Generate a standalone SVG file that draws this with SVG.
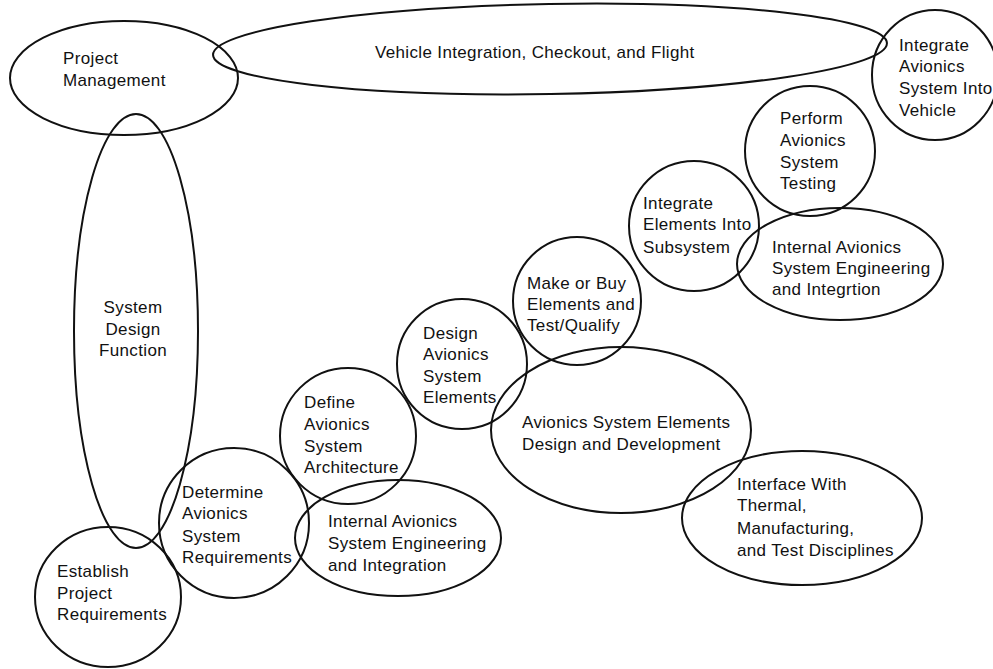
<svg xmlns="http://www.w3.org/2000/svg" width="993" height="669" viewBox="0 0 993 669">
<style>
.n{fill:none;stroke:#111;stroke-width:2}
text{font-family:"Liberation Sans",Arial,sans-serif;font-size:17px;letter-spacing:0.35px;fill:#111}
</style>
<rect width="993" height="669" fill="#fff"/>
<g id="connectors"></g>
<g id="project-management"><ellipse class="n" cx="124" cy="78" rx="114" ry="57"/><text x="63"><tspan x="63" y="64">Project</tspan><tspan x="63" y="86">Management</tspan></text></g>
<g id="vehicle-integration"><ellipse class="n" cx="550" cy="49" rx="337" ry="45" transform="rotate(-1 550 49)"/><text x="375" y="58">Vehicle Integration, Checkout, and Flight</text></g>
<g id="integrate-into-vehicle"><ellipse class="n" cx="935" cy="75" rx="63" ry="65"/><text><tspan x="899" y="51">Integrate</tspan><tspan x="899" y="72">Avionics</tspan><tspan x="899" y="94">System Into</tspan><tspan x="899" y="116">Vehicle</tspan></text></g>
<g id="perform-testing"><ellipse class="n" cx="810" cy="151" rx="65" ry="65"/><text><tspan x="780" y="124">Perform</tspan><tspan x="780" y="146">Avionics</tspan><tspan x="780" y="168">System</tspan><tspan x="780" y="189">Testing</tspan></text></g>
<g id="integrate-elements"><ellipse class="n" cx="694" cy="226" rx="65" ry="65"/><text><tspan x="643" y="209">Integrate</tspan><tspan x="643" y="230">Elements Into</tspan><tspan x="643" y="253">Subsystem</tspan></text></g>
<g id="internal-top"><ellipse class="n" cx="840" cy="264" rx="103" ry="56"/><text><tspan x="772" y="253">Internal Avionics</tspan><tspan x="772" y="274">System Engineering</tspan><tspan x="772" y="295">and Integrtion</tspan></text></g>
<g id="make-or-buy"><ellipse class="n" cx="577" cy="301" rx="64" ry="64"/><text><tspan x="527" y="289">Make or Buy</tspan><tspan x="527" y="310">Elements and</tspan><tspan x="527" y="331">Test/Qualify</tspan></text></g>
<g id="design-elements"><ellipse class="n" cx="462" cy="364" rx="65" ry="65"/><text><tspan x="423" y="339">Design</tspan><tspan x="423" y="360">Avionics</tspan><tspan x="423" y="382">System</tspan><tspan x="423" y="403">Elements</tspan></text></g>
<g id="define-architecture"><ellipse class="n" cx="348" cy="436" rx="68" ry="68"/><text><tspan x="304" y="408">Define</tspan><tspan x="304" y="430">Avionics</tspan><tspan x="304" y="452">System</tspan><tspan x="304" y="473">Architecture</tspan></text></g>
<g id="determine-requirements"><ellipse class="n" cx="234" cy="523" rx="75" ry="75"/><text><tspan x="182" y="498">Determine</tspan><tspan x="182" y="519">Avionics</tspan><tspan x="182" y="542">System</tspan><tspan x="182" y="563">Requirements</tspan></text></g>
<g id="internal-bottom"><ellipse class="n" cx="398" cy="538" rx="103" ry="58"/><text><tspan x="328" y="527">Internal Avionics</tspan><tspan x="328" y="549">System Engineering</tspan><tspan x="328" y="571">and Integration</tspan></text></g>
<g id="establish-requirements"><ellipse class="n" cx="108" cy="597" rx="73" ry="70"/><text><tspan x="57" y="577">Establish</tspan><tspan x="57" y="599">Project</tspan><tspan x="57" y="620">Requirements</tspan></text></g>
<g id="system-design"><ellipse class="n" cx="136" cy="331" rx="62" ry="217"/><text text-anchor="middle"><tspan x="133" y="313">System</tspan><tspan x="133" y="335">Design</tspan><tspan x="133" y="356">Function</tspan></text></g>
<g id="elements-design-development"><ellipse class="n" cx="621" cy="430" rx="130" ry="83"/><text><tspan x="522" y="428">Avionics System Elements</tspan><tspan x="522" y="450">Design and Development</tspan></text></g>
<g id="interface"><ellipse class="n" cx="802" cy="518" rx="120" ry="67"/><text><tspan x="737" y="490">Interface With</tspan><tspan x="737" y="511">Thermal,</tspan><tspan x="737" y="534">Manufacturing,</tspan><tspan x="737" y="556">and Test Disciplines</tspan></text></g>
</svg>
